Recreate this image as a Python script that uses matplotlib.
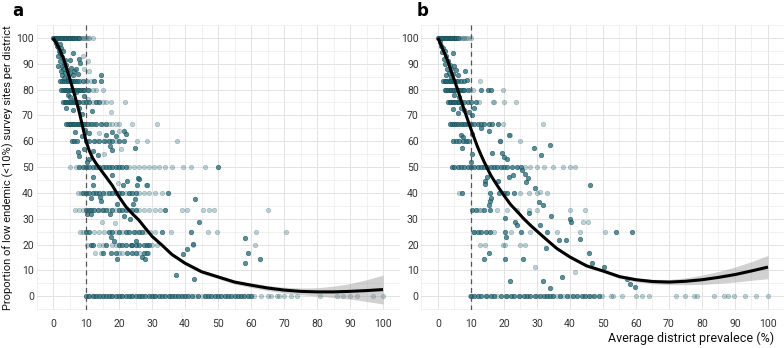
import numpy as np
import matplotlib
matplotlib.use("Agg")
import matplotlib.pyplot as plt

plt.rcParams['font.family'] = ['Roboto', 'DejaVu Sans']

# ---- panel a data ----
# rows of points sitting on the same proportion: (y, [x...])
a_rows_dark = [
    (100, [0, 0.4, 0.8, 1.2, 1.6, 2, 2.4, 2.8, 3.2, 3.6, 4, 4.4, 4.8, 5.2, 5.6, 6, 6.5, 7, 7.5, 8]),
    (83.3, [2, 2.6, 3.2, 3.8, 4.4, 5, 5.6, 6.2, 6.8, 7.4, 8, 9]),
    (80, [2.5, 3, 3.5, 4, 4.5, 5, 5.5, 6, 6.5, 7, 7.5, 8, 8.5, 9, 9.5, 10.5]),
    (75, [3, 3.5, 4, 4.5, 5, 5.5, 6, 6.5, 7, 7.5, 8, 9, 10, 11, 13, 14]),
    (66.7, [4, 4.5, 5, 5.5, 6, 6.5, 7, 7.5, 8, 8.5, 9, 9.5, 10.5, 11.5, 13, 14.5, 16]),
    (60, [5.7, 6.5, 7.2, 10, 11, 12.5, 14, 15.5, 17, 18, 20, 21.5]),
    (50, [8, 9, 10, 11, 12, 13, 14, 15, 16, 17, 18, 19, 20, 21, 22, 50]),
    (40, [9, 10, 11, 12, 13, 14, 15, 17, 18, 19, 20, 21, 23, 24, 25, 34.8]),
    (33.3, [10, 10.8, 11.6, 12.5, 13.5, 15, 16, 18, 20, 21, 22, 24, 25, 34]),
    (25, [10, 11, 17, 18, 20, 22, 23, 24.5, 26, 27, 33, 41.7]),
    (20, [11.5, 12, 16, 20, 21, 22, 23.5, 24, 25, 26, 27.5, 28.5, 29]),
    (16.7, [15, 17.5, 19, 22.5, 24, 25, 27.5, 28.5]),
    (0, [10, 11, 12, 13, 14, 15, 16, 17, 18, 19, 20, 21, 22, 23, 24, 25, 26, 27, 28, 29, 30,
         31, 32, 33, 34, 35, 36, 37, 38, 39, 40, 41, 42, 44, 46, 47, 48, 49, 50, 51, 52, 53,
         54, 55, 56, 57, 58, 59, 60]),
]
a_rows_light = [
    (100, [8.5, 9, 9.5, 10, 10.5, 11, 12]),
    (83.3, [10, 11.5]),
    (80, [11, 12, 13, 15.2]),
    (75, [12, 15, 16, 17.5, 21.8]),
    (66.7, [10, 12, 12.5, 15, 17, 18, 19, 20, 24, 31.6]),
    (60, [13, 16, 19, 25.4, 28.4, 37.5]),
    (50, [5.2, 7, 23, 24.5, 26, 27.5, 29, 30.5, 32, 34, 36, 39.5, 41.8, 46]),
    (40, [7.7, 8.5, 16, 22, 26, 27.5, 29, 31, 33]),
    (33.3, [6.8, 8, 9, 14.5, 17, 19, 23, 26, 27.5, 29, 31, 32.5, 39, 40.7, 45.4, 47.4, 48.8, 65]),
    (25, [8.2, 9, 12.5, 14, 15.5, 19, 21, 25, 28, 29.5, 31, 35.7, 46.9, 49.8, 61.6, 70.5]),
    (20, [10.2, 14, 15, 18, 19, 30, 31.4, 42.5, 61.3]),
    (16.7, [12.7, 14.5, 20, 21, 26, 28.9]),
    (0, [10.5, 12.5, 14.5, 17.5, 20.5, 23.5, 26.5, 30.5, 35.5, 38.5, 43, 45, 61, 63, 65, 66,
         68, 68.5, 70, 72, 74, 81, 86, 88, 90, 92, 97, 100]),
]
# scattered points (x, y)
a_pts_dark = [
    (0.5, 99), (1, 98), (1.2, 97), (1.5, 96.5), (2, 97.5), (1.8, 95), (2.2, 94), (2.5, 96),
    (1.4, 93), (2.8, 92.5), (3, 95), (2, 91), (3.2, 90), (2.6, 89), (3.5, 91.5), (1.6, 89),
    (3, 88), (4, 89.5), (2.4, 87), (3.6, 86.5), (4.2, 87.5), (2.8, 85.5), (4.5, 85), (3.3, 84.5),
    (5, 86.5), (6.2, 94.2), (5, 91.5), (8, 91.8), (8.2, 90.3), (5.5, 88.5), (6.5, 87), (7, 88),
    (4.8, 83.8), (6, 85.5), (7.5, 86), (12.5, 83.5), (14.5, 85.7), (14.5, 83.5),
    (4.6, 78), (5.2, 77), (6.5, 76), (3.8, 73), (7.8, 73), (6, 72), (8.8, 70.5), (11.7, 71.7),
    (9.5, 77.5), (7, 79),
    (9.8, 64.5), (6.8, 63.5), (8.8, 62), (16, 62.5), (18, 63.5), (19, 62), (21.5, 64),
    (22.2, 62.8), (11, 63),
    (24.8, 57.3), (17.3, 58), (17.8, 56.8), (12.2, 56.3), (7.6, 55.9), (8, 54.1), (11, 53.2),
    (9.5, 57), (10.2, 52), (13.5, 54.5),
    (12, 43), (21.3, 43.1), (22.3, 44.7), (25.7, 45.8), (25.5, 43.2), (26.2, 45.4), (28.6, 43.2),
    (17.8, 47), (12.2, 46),
    (24.8, 37.6), (14.2, 38.5), (14.4, 37), (19.3, 35.7), (24.3, 35.7), (43, 37.6), (11.5, 38),
    (10.2, 31.8), (11.5, 31.8), (17.3, 31.8), (21.4, 31), (23.4, 30), (44.2, 28.8),
    (42.3, 20.1), (40.7, 18.4), (58.2, 22.4), (17.5, 23), (18.5, 21.5), (25, 21.5), (59.2, 16.8),
    (19.3, 14.5), (26.9, 15.3), (28, 14.6), (39.3, 16.5), (62.7, 14.5), (58.2, 12.7),
    (37.3, 8.4), (42.8, 6.5),
]
a_pts_light = [
    (9.5, 88), (10.2, 83.5), (11, 87), (10.5, 91), (9, 93), (17.5, 71.4), (10.5, 76.5),
    (14, 63), (20, 64), (15.5, 55), (20.5, 57), (28.1, 43.1), (19.6, 44),
    (14.7, 28.9), (18.8, 28.5),
]
a_curve_x = [0, 1, 2, 3, 4, 5, 6, 7, 8, 9, 10, 11, 12, 13, 14, 16, 18, 20, 22, 24, 26, 28, 30,
             33, 36, 40, 45, 50, 55, 60, 65, 70, 75, 80, 85, 90, 95, 100]
a_curve_y = [100, 98, 95.5, 92.5, 88.8, 84.5, 80.2, 75.8, 71, 65.5, 60, 56.3, 53.5, 51.5, 49.7,
             46.3, 42.8, 38.5, 34.8, 32, 29.5, 26.3, 23.2, 19.8, 16.2, 12.8, 9.5, 7.5, 5.5, 4.3,
             3.2, 2.4, 1.9, 1.7, 1.7, 1.9, 2.2, 2.6]
a_band = [0.6, 0.6, 0.6, 0.6, 0.6, 0.6, 0.6, 0.6, 0.6, 0.6, 0.6, 0.6, 0.6, 0.6, 0.6, 0.6, 0.6,
          0.6, 0.6, 0.6, 0.6, 0.6, 0.6, 0.6, 0.7, 0.7, 0.7, 0.7, 0.8, 0.9, 1.0, 1.1, 1.3, 1.6,
          2.2, 3.0, 4.2, 5.6]

# ---- panel b data ----
b_rows_dark = [
    (100, [0, 0.4, 0.8, 1.2, 1.6, 2, 2.4, 2.8, 3.2, 3.6, 4, 4.4, 4.8, 5.2, 5.6, 6]),
    (83.3, [1.5, 2, 2.5, 3, 3.5, 4, 4.5, 5, 5.5, 6, 7, 8]),
    (80, [2, 2.5, 3, 3.5, 4, 4.5, 5, 5.5, 6, 6.5, 7, 7.5, 8, 9, 13.1, 15.3, 16.1]),
    (75, [3, 3.5, 4, 4.5, 5, 5.5, 6, 6.5, 7, 8, 9, 10, 11.5]),
    (66.7, [3.6, 4.2, 5, 5.6, 6.2, 7, 7.6, 8.2, 9, 10, 11, 12, 13, 14, 15.5, 16.5, 18.3]),
    (60, [4.5, 5.5, 6.5, 7.5, 8.5, 9.1]),
    (50, [4.3, 5, 6, 7, 8, 9, 10, 11, 12, 13, 14, 15, 16, 17, 18, 19, 20, 21, 22.5, 24, 25.2]),
    (40, [7.2, 15.8, 18.4, 19.9, 21, 23]),
    (33.3, [10.2, 11.5, 14, 15.8]),
    (25, [11, 12, 13, 14.5, 15.8, 20.3, 25.2, 33, 53.8, 58.7]),
    (0, [10, 11, 12, 13, 14.5, 16, 17, 19, 20.5, 22, 23, 24.5, 26, 27, 28, 29.5, 31, 32, 33, 34,
         35, 37, 39, 41, 42, 43.7, 44.7, 45.7, 47.2, 48.7]),
]
b_rows_light = [
    (100, [6.5, 7, 7.5, 8, 8.5, 9, 10]),
    (83.3, [12.6]),
    (80, [9.7, 10.5, 19.7]),
    (75, [12.5, 16.6, 17.1, 20.1, 23.7]),
    (66.7, [19.7, 31.7]),
    (60, [18.8, 24.9]),
    (50, [26.5, 28, 30, 32, 35, 38, 40, 41.6]),
    (40, [6.5, 25, 27.5, 30, 33]),
    (33.3, [12.5, 13, 18, 21, 24, 27.5, 30, 40, 44.7]),
    (25, [10.5, 17, 22, 28, 36, 43, 50.5]),
    (20, [12.6, 14.3, 19.7, 20.4, 25, 26.4]),
    (0, [9.7, 15, 18, 21, 25, 30, 36, 38, 40, 46.4, 49.8, 52.3, 53.1, 55.8, 59.9, 61.9, 63.9,
         72, 75, 77.6, 78.6, 83.7, 86.7, 87.8, 89.8, 92.9, 96.4, 99.9]),
]
b_pts_dark = [
    (0.5, 98.5), (1, 97), (1.5, 96), (1.2, 94.5), (2, 95), (2.5, 93), (1.8, 92), (3, 91),
    (2.2, 90), (3.5, 89.5), (2.8, 88), (4, 88), (3.2, 86.5), (4.7, 94.2), (4.5, 86), (5, 89),
    (3.8, 85), (5.5, 87.5), (6, 85.5), (8.2, 87.3), (8.8, 83.8), (2.5, 85.5),
    (5, 78), (6.5, 77), (7, 73), (8, 72), (9.5, 71.5), (10.2, 70), (4.5, 72.5), (6, 71), (11, 73),
    (6.9, 62.6), (7.6, 61.5), (10.3, 62.9), (13, 65), (15.6, 63.9), (21.4, 62.5), (18.7, 60),
    (33.8, 58.6), (29.2, 57.3), (31.3, 54.7), (16.3, 55.4), (19.4, 55.4), (7.3, 57.3),
    (10.2, 55.1), (19.9, 53.8), (20.8, 53), (10, 52),
    (25.4, 49), (26.4, 47.4), (27.3, 45.8), (26.8, 44.4), (21.4, 46.3), (22.8, 46.8),
    (18.3, 44.5), (15, 46.3), (14.4, 44.8), (14.1, 43.5), (29.5, 41.9), (46.2, 42.9),
    (15.8, 37), (15.6, 35.4), (16.2, 38), (30.5, 36.3), (31.9, 35.4),
    (20.2, 30.2), (23.2, 28.8), (23.8, 27.6), (27.5, 32.2), (34.3, 30.9), (40.1, 29.8),
    (40.4, 28.7), (31, 27.6),
    (43, 22.3), (38.7, 21.7), (36.6, 21.7), (32.8, 18.8), (20.7, 23), (45.7, 16.9),
    (13.8, 14.5), (15.6, 16.8), (20.3, 14.5), (25.9, 14.5), (31.8, 6.1), (33.8, 3.2),
    (37.6, 7.4), (21.9, 6.1), (46.7, 12.7), (50.2, 11.4), (57.4, 6.7), (58.2, 4.9), (59.6, 3.5),
]
b_pts_light = [
    (31, 40.2), (21.7, 62.6), (44, 28.7), (45.4, 28.7), (41.4, 9.5), (29.4, 11.3),
]
b_curve_x = [0, 1, 2, 3, 4, 5, 6, 7, 8, 9, 10, 11, 12, 13, 14, 16, 18, 20, 22, 24, 26, 28, 30,
             33, 36, 40, 45, 50, 55, 60, 65, 70, 75, 80, 85, 90, 95, 100]
b_curve_y = [100, 97, 94, 91, 87, 83.5, 79.8, 75.8, 72, 68.3, 64.7, 61.2, 57.8, 54.8, 52, 46.8,
             42.8, 39, 35.5, 32.8, 30, 27.5, 25.2, 21.8, 18.5, 15.2, 11.8, 9.8, 7.6, 6.4, 5.7,
             5.5, 5.8, 6.4, 7.3, 8.4, 9.8, 11.3]
b_band = [0.6, 0.6, 0.6, 0.6, 0.6, 0.6, 0.6, 0.6, 0.6, 0.6, 0.6, 0.6, 0.6, 0.6, 0.6, 0.6, 0.6,
          0.6, 0.6, 0.6, 0.6, 0.6, 0.6, 0.6, 0.6, 0.6, 0.6, 0.6, 0.7, 0.8, 0.9, 1.0, 1.3, 1.8,
          2.3, 2.9, 3.6, 4.5]

ticks = [0, 10, 20, 30, 40, 50, 60, 70, 80, 90, 100]
minor = [-5, 5, 15, 25, 35, 45, 55, 65, 75, 85, 95, 105]

teal = '#1f6b79'
edge = '#16434d'


def expand(rows):
    xs, ys = [], []
    for y, row in rows:
        xs += row
        ys += [y] * len(row)
    return xs, ys


def panel(ax, rows_dark, rows_light, pts_dark, pts_light, cx, cy, band):
    lx, ly = expand(rows_light)
    lx += [p[0] for p in pts_light]
    ly += [p[1] for p in pts_light]
    dx, dy = expand(rows_dark)
    dx += [p[0] for p in pts_dark]
    dy += [p[1] for p in pts_dark]
    ax.scatter(lx, ly, s=11, color=teal, edgecolor=edge, linewidth=0.4, alpha=0.3, zorder=2)
    ax.scatter(dx, dy, s=11, color=teal, edgecolor=edge, linewidth=0.4, alpha=0.75, zorder=3)
    cx = np.array(cx)
    cy = np.array(cy)
    band = np.array(band)
    ax.fill_between(cx, cy - band, cy + band, color='#999999', alpha=0.45, lw=0, zorder=4)
    ax.plot(cx, cy, color='black', lw=2.2, zorder=5, solid_capstyle='butt')
    ax.axvline(10, color='#555555', lw=0.9, ls=(0, (4, 3)), zorder=3.5)

    ax.set_xlim(-5, 105)
    ax.set_ylim(-5.5, 105)
    ax.set_xticks(ticks)
    ax.set_yticks(ticks)
    ax.set_xticks(minor, minor=True)
    ax.set_yticks(minor, minor=True)
    ax.grid(True, which='major', color='#e3e3e3', lw=0.7, zorder=0)
    ax.grid(True, which='minor', color='#ececec', lw=0.5, zorder=0)
    ax.set_axisbelow(True)
    for s in ax.spines.values():
        s.set_visible(False)
    ax.tick_params(which='both', length=0, labelsize=7.5, colors='#333333')
    ax.tick_params(axis='x', pad=6)
    ax.tick_params(axis='y', pad=2)


fig = plt.figure(figsize=(7.84, 3.48), dpi=100)
ax1 = fig.add_axes([0.0466, 0.1078, 0.463, 0.8205])
ax2 = fig.add_axes([0.5376, 0.1078, 0.463, 0.8205])

panel(ax1, a_rows_dark, a_rows_light, a_pts_dark, a_pts_light, a_curve_x, a_curve_y, a_band)
panel(ax2, b_rows_dark, b_rows_light, b_pts_dark, b_pts_light, b_curve_x, b_curve_y, b_band)

fig.text(0.0153, 0.994, 'a', ha='left', va='top', fontsize=12, fontweight='bold',
         family=['DejaVu Sans'])
fig.text(0.532, 0.994, 'b', ha='left', va='top', fontsize=12, fontweight='bold',
         family=['DejaVu Sans'])
fig.text(0.011, 0.518, 'Proportion of low endemic (<10%) survey sites per district',
         rotation=90, ha='center', va='center', fontsize=8, color='#111111')
fig.text(0.988, 0.017, 'Average district prevalece (%)', ha='right', va='baseline',
         fontsize=9, color='#111111')

fig.savefig('out.png', dpi=100)
